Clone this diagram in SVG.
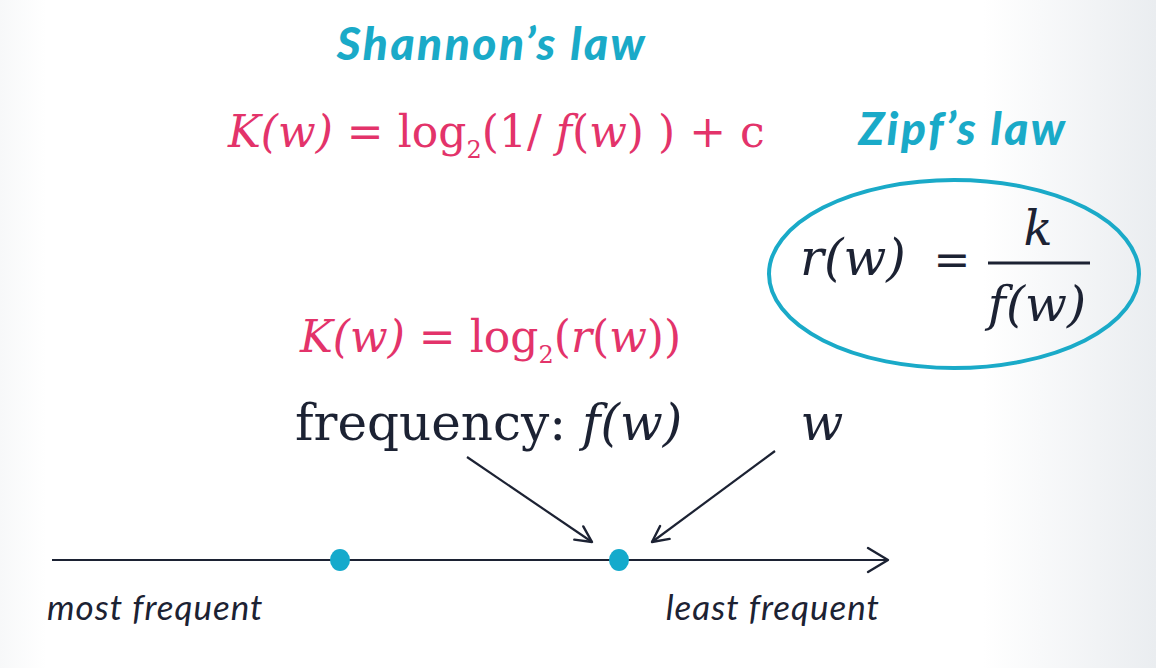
<svg xmlns="http://www.w3.org/2000/svg" width="1156" height="668" viewBox="0 0 1156 668">
<defs>
<linearGradient id="bg" x1="0" y1="0" x2="1" y2="0">
<stop offset="0" stop-color="#f7f8f9"/>
<stop offset="0.04" stop-color="#ffffff"/>
<stop offset="0.85" stop-color="#ffffff"/>
<stop offset="1" stop-color="#eaedf0"/>
</linearGradient>
<marker id="open" viewBox="0 0 20 20" refX="18" refY="10" markerWidth="20" markerHeight="20" markerUnits="userSpaceOnUse" orient="auto">
<path d="M2,2 L18,10 L2,18" fill="none" stroke="#1c2233" stroke-width="2.4" stroke-linecap="round" stroke-linejoin="round"/>
</marker>
<marker id="big" viewBox="0 0 28 28" refX="26" refY="14" markerWidth="28" markerHeight="28" markerUnits="userSpaceOnUse" orient="auto">
<path d="M6,2 L26,14 L6,26" fill="none" stroke="#1c2233" stroke-width="2.4" stroke-linecap="round" stroke-linejoin="round"/>
</marker>
</defs>
<style>
.title{font-family:"Lato","Noto Sans",sans-serif;font-style:italic;font-weight:900;fill:#1aaac8;font-size:46px;letter-spacing:2.5px}
.pink{font-family:"DejaVu Serif","Liberation Serif",serif;fill:#e3336a}
.dark{font-family:"DejaVu Serif","Liberation Serif",serif;fill:#1c2233}
.i{font-style:italic}
.hand{font-family:"Lato","Noto Sans",sans-serif;font-style:italic;fill:#1c2233;font-size:35px;letter-spacing:1px}
.conn{stroke:#1c2233;stroke-width:2.2;fill:none}
</style>
<rect width="1156" height="668" fill="url(#bg)"/>

<g id="shannon-title"><text class="title" x="492" y="60" text-anchor="middle">Shannon’s law</text></g>

<g id="shannon-formula"><text class="pink" x="228" y="147" font-size="44"><tspan class="i">K(w)</tspan> = log<tspan font-size="24" dy="11">2</tspan><tspan dy="-11">(1/ </tspan><tspan class="i">f</tspan>(<tspan class="i">w</tspan>) ) + c</text></g>

<g id="zipf-title"><text class="title" x="963" y="145" text-anchor="middle" font-size="48" letter-spacing="3.5">Zipf’s law</text></g>

<g id="zipf-formula">
<ellipse cx="954" cy="274" rx="185" ry="94" fill="none" stroke="#1aaac8" stroke-width="4"/>
<text class="dark i" x="800" y="275" font-size="50">r(w)</text>
<text class="dark" x="952" y="275" font-size="44" text-anchor="middle">=</text>
<text class="dark i" x="1038" y="245" font-size="48" text-anchor="middle">k</text>
<line x1="988" y1="263" x2="1090" y2="263" stroke="#1c2233" stroke-width="3"/>
<text class="dark i" x="1037" y="321" font-size="49" text-anchor="middle">f(w)</text>
</g>

<g id="k-rank"><text class="pink" x="300" y="352" font-size="44"><tspan class="i">K(w)</tspan> = log<tspan font-size="24" dy="11">2</tspan><tspan dy="-11">(</tspan><tspan class="i">r</tspan>(<tspan class="i">w</tspan>))</text></g>

<g id="frequency-label"><text class="dark" x="295" y="440" font-size="50">frequency: <tspan class="i">f(w)</tspan></text></g>

<g id="w-label"><text class="dark i" x="822" y="440" font-size="50" text-anchor="middle">w</text></g>

<g id="connectors">
<line class="conn" x1="467" y1="457" x2="592" y2="542" marker-end="url(#open)"/>
<line class="conn" x1="775" y1="451" x2="652" y2="542" marker-end="url(#open)"/>
<line class="conn" x1="52" y1="560" x2="888" y2="560" marker-end="url(#big)"/>
</g>

<g id="dot-1"><ellipse cx="340" cy="560" rx="10" ry="11" fill="#14aacc"/></g>
<g id="dot-2"><ellipse cx="619" cy="560" rx="10" ry="11" fill="#14aacc"/></g>

<g id="most-frequent"><text class="hand" x="47" y="620">most frequent</text></g>
<g id="least-frequent"><text class="hand" x="880" y="620" text-anchor="end">least frequent</text></g>
</svg>
